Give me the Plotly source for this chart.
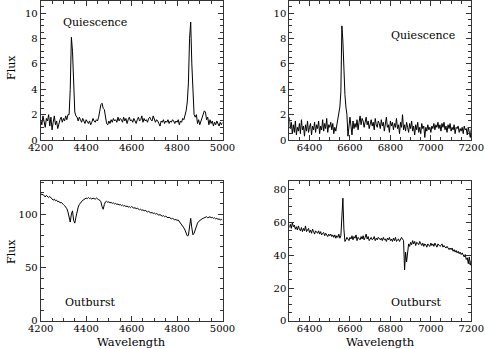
import plotly.graph_objects as go

# wavelength grids of the four spectra (Angstrom, 5 A sampling)
blue_wave = list(range(4200, 5005, 5))
red_wave = list(range(6300, 7205, 5))

# quiescence, blue arm (Hgamma, HeI 4471, Hbeta)
quiet_blue_flux = [
    1.6, 1.2, 1.9, 1.3, 1.0, 1.7, 1.5, 2.0, 1.1, 1.8,
    0.8, 1.4, 1.9, 1.2, 1.5, 0.9, 1.3, 1.6, 1.8, 1.4,
    1.7, 1.5, 1.9, 1.6, 2.0, 2.0, 4.0, 8.1, 7.0, 4.2,
    2.2, 1.9, 1.8, 1.5, 1.8, 1.6, 1.4, 1.7, 1.5, 1.3,
    1.6, 1.4, 1.3, 1.5, 1.2, 1.4, 1.7, 1.5, 1.4, 1.6,
    1.5, 1.8, 2.2, 2.8, 2.9, 2.5, 2.4, 1.8, 1.3, 1.2,
    1.5, 1.3, 1.6, 1.4, 1.7, 1.5, 1.6, 1.4, 1.8, 1.5,
    1.7, 1.6, 1.4, 1.8, 1.5, 1.7, 1.3, 1.6, 1.8, 1.5,
    1.6, 1.4, 1.7, 1.5, 1.3, 1.6, 1.8, 1.5, 1.6, 1.9,
    1.4, 1.7, 1.5, 1.6, 1.4, 1.7, 1.8, 1.6, 1.5, 1.9,
    1.7, 1.4, 1.6, 1.5, 1.3, 1.1, 1.5, 1.4, 1.6, 1.3,
    1.5, 1.4, 1.6, 1.3, 1.5, 1.4, 1.6, 1.5, 1.3, 1.5,
    1.4, 1.6, 1.2, 1.5, 1.4, 1.7, 1.6, 1.9, 2.3, 3.0,
    4.5, 8.0, 9.3, 6.0, 3.0, 2.0, 1.8, 2.0, 1.3, 1.6,
    1.2, 1.5, 1.8, 2.0, 2.3, 2.2, 1.6, 1.8, 1.2, 1.6,
    1.3, 1.5, 1.1, 1.4, 1.2, 1.5, 1.3, 1.1, 1.4, 1.2,
    1.4,
]

# quiescence, red arm (Halpha)
quiet_red_flux = [
    1.8, 0.9, 1.4, 0.5, 1.2, 0.6, 1.5, 0.4, 1.0, 0.7,
    1.3, 0.5, 1.6, 0.8, 1.1, 0.3, 1.2, 0.7, 1.5, 0.6,
    1.0, 1.3, 0.4, 1.1, 0.8, 1.4, 0.6, 1.2, 0.9, 1.5,
    0.5, 1.1, 0.8, 1.6, 0.7, 1.3, 0.9, 1.7, 0.6, 1.2,
    1.0, 1.4, 0.8, 1.3, 0.5, 1.0, 0.7, 1.2, 1.6, 2.2,
    2.6, 3.8, 9.0, 7.8, 5.0, 3.6, 2.6, 2.0, 0.3, 1.4,
    1.8, 1.1, 0.4, 1.5, 0.9, 1.3, 1.0, 1.6, 0.8, 1.4,
    1.9, 1.2, 1.7, 1.5, 1.0, 1.4, 1.8, 1.2, 1.5, 0.9,
    1.3, 1.6, 1.1, 1.4, 0.8, 1.7, 1.2, 1.0, 1.5, 1.3,
    0.9, 1.6, 1.1, 1.4, 0.7, 1.3, 1.8, 1.0, 1.2, 0.6,
    1.5, 1.1, 1.4, 0.8, 1.3, 1.0, 1.7, 0.9, 1.2, 0.5,
    1.4, 1.0, 2.0, 0.8, 1.2, 0.7, 1.4, 1.0, 0.6, 1.3,
    0.9, 1.5, 0.7, 1.1, 0.4, 1.2, 0.8, 1.4, 0.6, 1.0,
    0.5, 1.3, 0.9, 1.1, 0.2, 1.0, 0.7, 1.2, 0.8, 1.0,
    0.6, 1.1, 0.9, 1.3, 0.8, 1.2, 1.0, 1.4, 0.9, 1.2,
    0.7, 1.3, 1.0, 1.4, 0.8, 1.1, 0.6, 1.2, 0.9, 1.3,
    0.7, 1.0, 0.8, 1.2, 0.5, 1.0, 0.9, 1.1, 0.6, 0.9,
    0.7, 1.0, 0.5, 1.1, 0.8, 0.9, 0.4, 1.0, 0.7, 0.2,
    0.9,
]

# outburst, blue arm (broad absorption with emission cores)
burst_blue_flux = [
    119.5, 118.0, 118.5, 117.0, 116.0, 117.5, 116.0, 115.5, 116.5, 115.0,
    114.5, 113.0, 114.0, 112.5, 113.0, 111.5, 112.0, 110.5, 111.0, 109.5,
    109.0, 108.0, 106.5, 105.0, 102.0, 97.0, 92.5, 100.0, 103.0, 94.0,
    91.5, 97.0, 103.0, 106.5, 109.0, 110.5, 111.5, 113.0, 113.5, 114.0,
    115.0, 114.5, 115.5, 114.5, 115.0, 114.0, 115.0, 114.5, 114.0, 115.0,
    114.0, 113.5, 113.0, 111.5, 107.0, 104.5, 109.0, 111.5, 112.0, 111.0,
    111.5, 110.5, 111.0, 110.0, 110.5, 109.5, 110.0, 109.0, 109.5, 108.5,
    109.0, 108.0, 108.5, 107.5, 108.0, 107.0, 107.5, 106.5, 107.0, 106.0,
    107.0, 106.0, 105.5, 106.0, 105.0, 105.5, 104.5, 104.0, 104.5, 103.5,
    104.0, 103.0, 103.5, 102.5, 102.0, 102.5, 101.5, 101.0, 101.5, 100.5,
    101.0, 100.0, 100.5, 99.5, 99.0, 99.5, 98.5, 98.0, 98.5, 97.5,
    98.0, 97.0, 96.5, 97.0, 96.0, 95.5, 96.0, 95.0, 94.5, 95.0,
    94.0, 94.5, 93.0, 92.5, 91.0, 89.5, 87.0, 85.0, 82.0, 79.5,
    80.0, 88.0, 96.0, 87.0, 80.5, 82.0, 86.0, 89.5, 91.5, 93.0,
    94.0, 95.0, 95.5, 96.0, 96.5, 97.0, 97.5, 96.5, 97.0, 97.5,
    96.5, 97.0, 96.0, 96.5, 95.5, 96.0, 95.0, 95.5, 94.5, 95.0,
    94.5,
]

# outburst, red arm (Halpha emission, telluric B band)
burst_red_flux = [
    57.0, 59.0, 56.5, 60.0, 57.5, 58.5, 56.0, 57.5, 55.5, 58.0,
    56.0, 55.0, 57.0, 54.5, 56.5, 55.0, 58.0, 54.5, 55.5, 56.5,
    54.0, 55.5, 53.5, 56.0, 54.5, 53.0, 55.0, 54.0, 53.5, 55.0,
    53.0, 54.5, 52.5, 53.5, 54.0, 52.0, 53.5, 52.5, 51.5, 53.0,
    52.0, 53.0, 51.5, 52.5, 51.0, 52.5, 50.5, 52.0, 51.0, 53.0,
    50.5, 52.0, 66.0, 75.0, 56.0, 48.5, 49.5, 51.0, 50.0, 49.0,
    51.0, 50.0, 52.0, 49.5, 51.5, 50.5, 52.5, 49.0, 51.0, 50.5,
    49.5, 51.5, 50.0, 52.0, 49.5, 51.0, 53.0, 50.0, 51.5, 49.0,
    50.5, 51.0, 49.5, 50.0, 51.5, 49.0, 50.5, 49.5, 51.0, 50.0,
    49.5, 50.5, 49.0, 51.0, 49.5, 50.0, 48.5, 50.5, 49.5, 51.0,
    49.0, 50.0, 48.5, 50.5, 49.0, 51.0, 48.5, 49.5, 50.0, 48.5,
    49.5, 51.0, 50.0, 49.0, 31.0, 42.0, 36.0, 44.0, 47.0, 45.5,
    48.0, 46.5, 49.0, 47.0, 48.5, 46.0, 48.0, 47.5, 46.5, 48.5,
    47.0, 46.0, 47.5, 45.5, 47.0, 46.5, 45.0, 47.0, 46.0, 45.5,
    47.5, 46.0, 47.0, 45.5, 47.5, 46.0, 45.0, 47.0, 46.5, 45.5,
    46.0, 47.0, 45.0, 46.0, 45.0, 44.5, 45.5, 44.0, 43.5, 44.5,
    43.5, 44.5, 42.5, 43.5, 42.0, 43.0, 41.5, 42.5, 41.0, 42.0,
    40.5, 41.5, 40.0, 39.0, 40.5, 37.5, 38.5, 35.0, 39.0, 34.0,
    37.0,
]

FONT = "DejaVu Serif"
W, H = 485, 349

# panel boxes in pixels: (left, right, top, bottom)
cols = [(40.7, 222.5), (289.3, 471.3)]
rows = [(0.5, 140.0), (181.0, 320.7)]

panels = [
    # wave, flux, col, row, y range, y major, y minor, label, label x, label y
    (blue_wave, quiet_blue_flux, 0, 0, [0, 11], 2, 0.5, "Quiescence", 95, 23),
    (red_wave, quiet_red_flux, 1, 0, [0, 11], 2, 0.5, "Quiescence", 423, 35),
    (blue_wave, burst_blue_flux, 0, 1, [0, 131], 50, 10, "Outburst", 90, 302),
    (red_wave, burst_red_flux, 1, 1, [0, 85.5], 20, 5, "Outburst", 416, 302),
]


def label_at(text, px, py, size, angle=0):
    # annotation centred on a pixel position of the page
    return dict(
        text=text, x=px / W, y=1 - py / H, xref="paper", yref="paper",
        xanchor="center", yanchor="middle", textangle=angle, showarrow=False,
        font=dict(family=FONT, size=size, color="black"),
    )


fig = go.Figure()
annotations = []

for i, (wave, flux, c, r, yr, ymaj, ymin, label, lx, ly) in enumerate(panels, start=1):
    sfx = "" if i == 1 else str(i)
    fig.add_trace(go.Scatter(
        x=wave, y=flux, mode="lines",
        line=dict(color="black", width=1),
        xaxis="x" + sfx, yaxis="y" + sfx, showlegend=False,
    ))
    x0, x1 = cols[c]
    y0, y1 = rows[r]
    blue = c == 0
    axis_common = dict(
        showline=True, linecolor="#333", linewidth=1, mirror="allticks",
        ticks="inside", ticklen=5, tickcolor="#333", showgrid=False, zeroline=False,
        automargin=False,
        tickfont=dict(family=FONT, size=10, color="black"),
    )
    fig.update_layout({
        "xaxis" + sfx: dict(
            axis_common, domain=[x0 / W, x1 / W], anchor="y" + sfx,
            range=[4200, 5000] if blue else [6300, 7200],
            tick0=4200 if blue else 6400, dtick=200, ticklabelstandoff=-2,
            minor=dict(dtick=50, tick0=4200 if blue else 6300, ticklen=3,
                       ticks="inside", tickcolor="#333"),
        ),
        "yaxis" + sfx: dict(
            axis_common, domain=[1 - y1 / H, 1 - y0 / H], anchor="x" + sfx,
            range=yr, tick0=0, dtick=ymaj,
            minor=dict(dtick=ymin, tick0=0, ticklen=3, ticks="inside", tickcolor="#333"),
        ),
    })
    annotations.append(label_at(label, lx, ly, 11))

for ty in (68, 252):
    annotations.append(label_at("Flux", 11, ty, 11, angle=-90))
for tx in (131.5, 380.5):
    annotations.append(label_at("Wavelength", tx, 341.5, 11.5))

fig.update_layout(
    width=W, height=H, autosize=False,
    margin=dict(l=0, r=0, t=0, b=0),
    paper_bgcolor="white", plot_bgcolor="white",
    annotations=annotations,
)

# the page body has a default 8px margin; drop it so the figure fills the window
fig.write_html(
    "out.html",
    config={"displayModeBar": False},
    post_script="document.body.style.margin='0';",
)
